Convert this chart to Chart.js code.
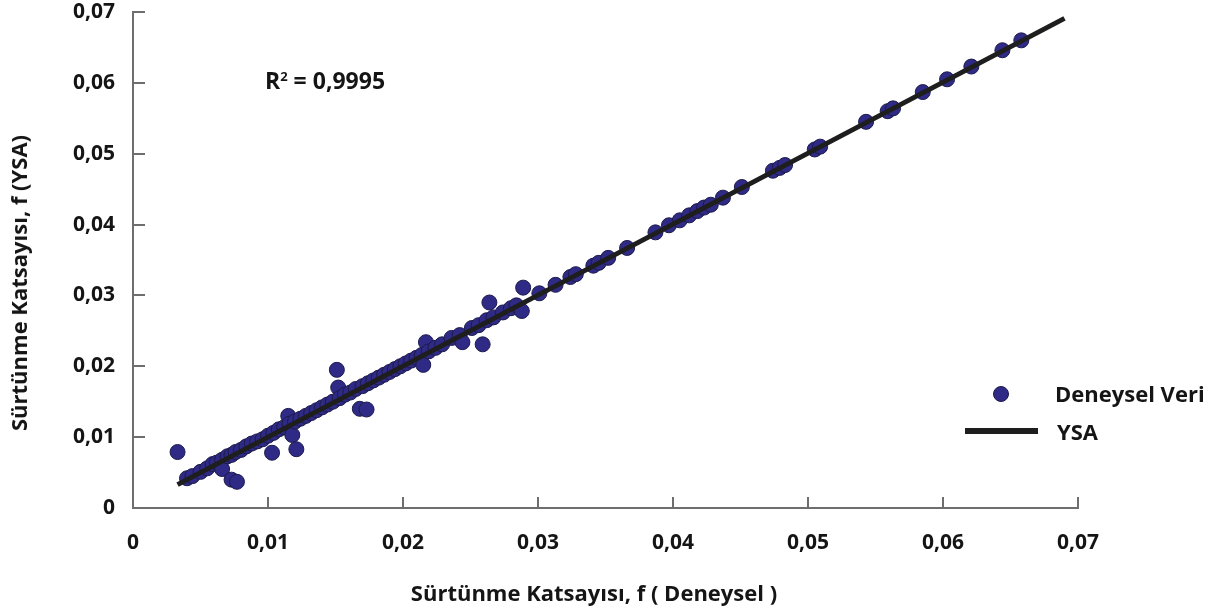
<!DOCTYPE html>
<html>
<head>
<meta charset="utf-8">
<script src="https://cdn.jsdelivr.net/npm/chart.js@4.4.1/dist/chart.umd.min.js"></script>
<style>
  html, body { margin: 0; padding: 0; background: #ffffff; }
  #wrap { position: relative; width: 1226px; height: 612px; overflow: hidden; font-family: 'Open Sans', sans-serif; }
  canvas { position: absolute; left: 0; top: 0; }
  .txt { position: absolute; font-weight: bold; color: #151515; white-space: nowrap; }
  #ytitle { left: 18px; top: 283px; transform: translate(-50%, -50%) rotate(-90deg); font-size: 22px; }
  #xtitle { left: 594px; top: 592px; transform: translate(-50%, -50%); font-size: 22px; }
  #r2 { left: 265px; top: 80px; transform: translateY(-50%); font-size: 23px; }
  #r2 sup { font-size: 13px; vertical-align: 8px; }
  .leg { font-size: 22px; transform: translateY(-50%); }
  .legdot { position: absolute; width: 14px; height: 14px; border-radius: 50%; background: #2f2a85; border: 1px solid #1c1a4a; transform: translate(-50%, -50%); }
  .legline { position: absolute; height: 6px; background: #1e1e1e; transform: translateY(-50%); }
</style>
</head>
<body>
<div id="wrap">
  <canvas id="c" width="1226" height="612"></canvas>
  <div class="txt" id="ytitle">Sürtünme Katsayısı, f (YSA)</div>
  <div class="txt" id="xtitle">Sürtünme Katsayısı, f ( Deneysel )</div>
  <div class="txt" id="r2">R<sup>2</sup> = 0,9995</div>
  <div class="legdot" style="left:1001px; top:394px;"></div>
  <div class="txt leg" style="left:1055px; top:393px;">Deneysel Veri</div>
  <div class="legline" style="left:965px; top:431px; width:73px;"></div>
  <div class="txt leg" style="left:1057px; top:431px;">YSA</div>
</div>
<script>
// Tick values and labels
const tickValues = [0, 0.01, 0.02, 0.03, 0.04, 0.05, 0.06, 0.07];
const tickLabels = ['0', '0,01', '0,02', '0,03', '0,04', '0,05', '0,06', '0,07'];

// Series: Deneysel Veri (experimental vs. ANN prediction)
const deneyselX = [
  0.0033, 0.0040, 0.0044, 0.0050, 0.0055, 0.0059, 0.0062, 0.0066, 0.0066, 0.0070, 0.0073, 0.0073, 0.0077,
  0.0076, 0.0080, 0.0084, 0.0088, 0.0092, 0.0096, 0.0100, 0.0103, 0.0104, 0.0108, 0.0112, 0.0115,
  0.0116, 0.0118, 0.0120, 0.0121, 0.0124, 0.0128, 0.0132, 0.0136, 0.0140, 0.0144, 0.0148, 0.0151,
  0.0152, 0.0153, 0.0157, 0.0161, 0.0165, 0.0168, 0.0170, 0.0173, 0.0174, 0.0178, 0.0182, 0.0186,
  0.0190, 0.0194, 0.0198, 0.0202, 0.0206, 0.0210, 0.0214, 0.0215, 0.0217, 0.0219, 0.0224, 0.0229,
  0.0236, 0.0242, 0.0244, 0.0251, 0.0256, 0.0259, 0.0262, 0.0264, 0.0267, 0.0274, 0.0280, 0.0284,
  0.0288, 0.0289, 0.0301, 0.0313, 0.0324, 0.0328, 0.0341, 0.0345, 0.0352, 0.0366, 0.0387, 0.0397,
  0.0405, 0.0412, 0.0418, 0.0423, 0.0428, 0.0437, 0.0451, 0.0474, 0.0479, 0.0483, 0.0505, 0.0509,
  0.0543, 0.0559, 0.0563, 0.0585, 0.0603, 0.0621, 0.0644, 0.0658
];
const deneyselY = [
  0.0079, 0.0042, 0.0045, 0.0051, 0.0056, 0.0062, 0.0064, 0.0068, 0.0055, 0.0073, 0.0075, 0.0040, 0.0037,
  0.0079, 0.0082, 0.0087, 0.0091, 0.0094, 0.0097, 0.0102, 0.0078, 0.0106, 0.0111, 0.0114, 0.0130,
  0.0119, 0.0103, 0.0122, 0.0083, 0.0126, 0.0130, 0.0134, 0.0138, 0.0142, 0.0146, 0.0150, 0.0195,
  0.0170, 0.0155, 0.0160, 0.0163, 0.0168, 0.0140, 0.0172, 0.0139, 0.0176, 0.0180, 0.0184, 0.0188,
  0.0192, 0.0196, 0.0200, 0.0204, 0.0208, 0.0212, 0.0216, 0.0202, 0.0234, 0.0221, 0.0226, 0.0231,
  0.0240, 0.0244, 0.0234, 0.0254, 0.0258, 0.0231, 0.0265, 0.0290, 0.0269, 0.0276, 0.0282, 0.0286,
  0.0278, 0.0311, 0.0303, 0.0315, 0.0326, 0.0330, 0.0342, 0.0346, 0.0353, 0.0367, 0.0389, 0.0399,
  0.0406, 0.0413, 0.0419, 0.0424, 0.0428, 0.0438, 0.0453, 0.0476, 0.0480, 0.0484, 0.0506, 0.0510,
  0.0545, 0.0560, 0.0564, 0.0587, 0.0605, 0.0623, 0.0646, 0.0660
];

// Series: YSA (fitted line)
const ysaX = [0.0033, 0.0690];
const ysaY = [0.0033, 0.0691];

const scatterData = deneyselX.map((x, i) => ({ x: x, y: deneyselY[i] }));
const lineData = ysaX.map((x, i) => ({ x: x, y: ysaY[i] }));

const tickFont = { family: "'Open Sans', sans-serif", size: 21, weight: 'bold' };

const innerTicks = {
  id: 'innerTicks',
  afterDraw(chart) {
    const ctx = chart.ctx;
    const xs = chart.scales.x, ys = chart.scales.y;
    ctx.save();
    ctx.strokeStyle = '#6e6e6e';
    ctx.lineWidth = 2;
    tickValues.forEach(v => {
      if (v === 0) return;
      const px = Math.round(xs.getPixelForValue(v));
      ctx.beginPath();
      ctx.moveTo(px, ys.bottom);
      ctx.lineTo(px, ys.bottom - 11);
      ctx.stroke();
      const py = Math.round(ys.getPixelForValue(v));
      ctx.beginPath();
      ctx.moveTo(xs.left, py);
      ctx.lineTo(xs.left + 12, py);
      ctx.stroke();
    });
    ctx.restore();
  }
};

new Chart(document.getElementById('c'), {
  type: 'scatter',
  data: {
    datasets: [
      {
        label: 'Deneysel Veri',
        data: scatterData,
        order: 2,
        pointRadius: 7.5,
        pointHoverRadius: 7.5,
        backgroundColor: '#2f2a85',
        borderColor: '#1c1a4a',
        borderWidth: 1
      },
      {
        label: 'YSA',
        type: 'line',
        data: lineData,
        order: 1,
        showLine: true,
        pointRadius: 0,
        borderColor: '#1e1e1e',
        borderWidth: 5,
        fill: false
      }
    ]
  },
  plugins: [innerTicks],
  options: {
    responsive: false,
    animation: false,
    layout: { padding: { top: 12, right: 148, left: 0, bottom: 0 } },
    plugins: {
      legend: { display: false },
      tooltip: { enabled: false }
    },
    scales: {
      x: {
        type: 'linear',
        min: 0,
        max: 0.07,
        afterBuildTicks(scale) { scale.ticks = tickValues.map(v => ({ value: v })); },
        afterFit(scale) { scale.height = 104; scale.paddingLeft = 0; scale.paddingRight = 0; },
        ticks: {
          font: tickFont,
          color: '#151515',
          padding: 22,
          maxRotation: 0,
          callback(value) { const i = tickValues.findIndex(t => Math.abs(t - value) < 1e-9); return i >= 0 ? tickLabels[i] : ''; }
        },
        grid: { display: true, drawOnChartArea: false, drawTicks: false },
        border: { display: true, color: '#6e6e6e', width: 2 }
      },
      y: {
        type: 'linear',
        min: 0,
        max: 0.07,
        afterBuildTicks(scale) { scale.ticks = tickValues.map(v => ({ value: v })); },
        afterFit(scale) { scale.width = 133; scale.paddingTop = 0; scale.paddingBottom = 0; },
        ticks: {
          font: tickFont,
          color: '#151515',
          padding: 18,
          callback(value) { const i = tickValues.findIndex(t => Math.abs(t - value) < 1e-9); return i >= 0 ? tickLabels[i] : ''; }
        },
        grid: { display: true, drawOnChartArea: false, drawTicks: false },
        border: { display: true, color: '#6e6e6e', width: 2 }
      }
    }
  }
});
</script>
</body>
</html>
